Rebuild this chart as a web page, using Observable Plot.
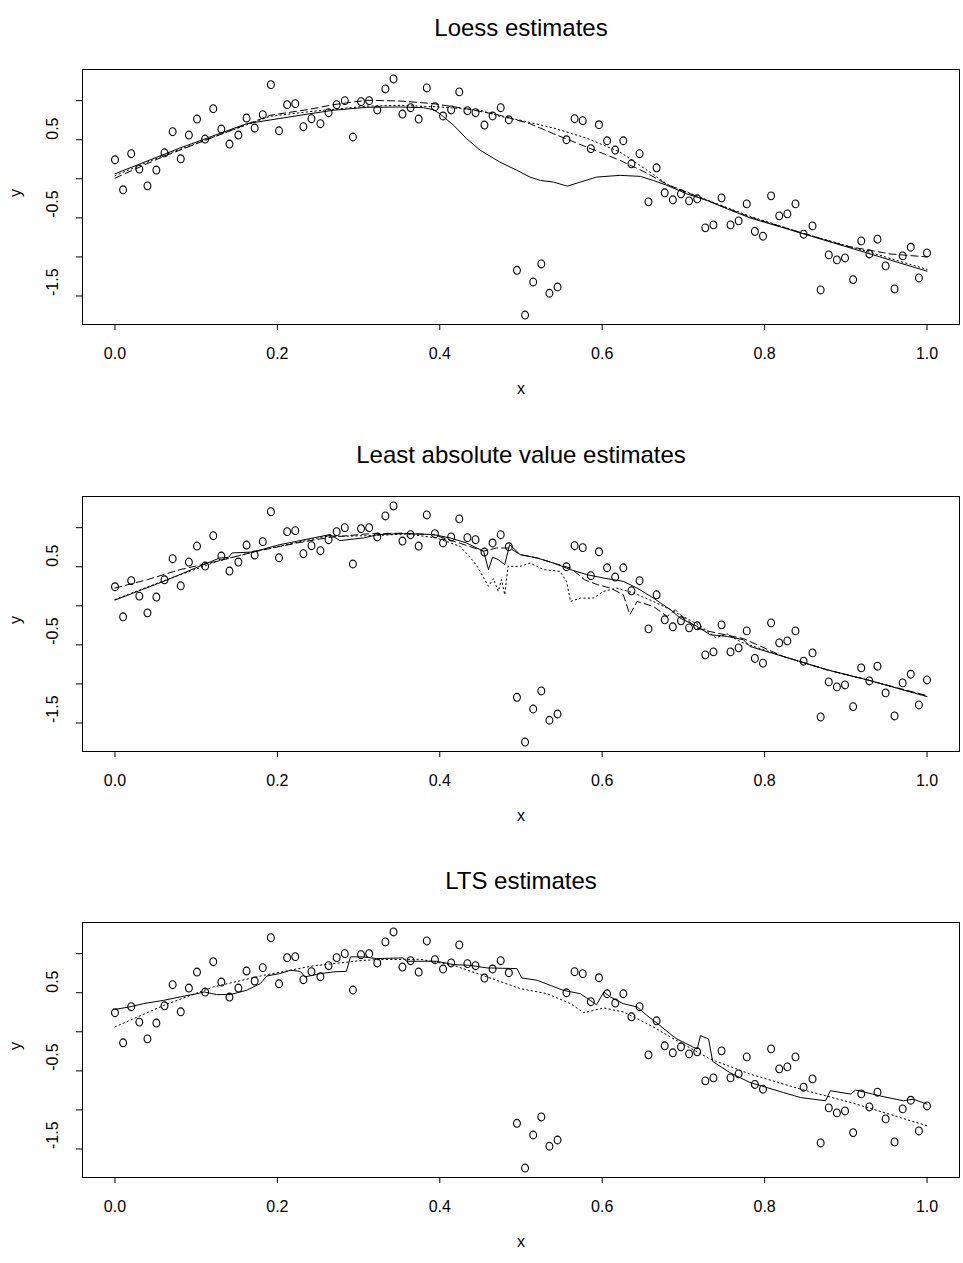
<!DOCTYPE html>
<html>
<head>
<meta charset="utf-8">
<script src="https://cdn.jsdelivr.net/npm/d3@7"></script>
<script src="https://cdn.jsdelivr.net/npm/@observablehq/plot@0.6"></script>
<style>
html, body { margin: 0; padding: 0; background: white; overflow: hidden; }
#wrap { position: relative; width: 963px; height: 1263px; overflow: hidden; background: white; }
#wrap svg { position: absolute; left: 0; }
</style>
</head>
<body>
<div id="wrap"></div>
<script>
// ---- data ----
const titles = ["Loess estimates", "Least absolute value estimates", "LTS estimates"];
const xTicks = [0, 0.2, 0.4, 0.6, 0.8, 1.0];
const yTicks = [-1.5, -1.0, -0.5, 0, 0.5, 1.0];
const yTickLabels = [-1.5, -0.5, 0.5];

const xs = [0.000,0.010,0.020,0.030,0.040,0.051,0.061,0.071,0.081,0.091,
0.101,0.111,0.121,0.131,0.141,0.152,0.162,0.172,0.182,0.192,
0.202,0.212,0.222,0.232,0.242,0.253,0.263,0.273,0.283,0.293,
0.303,0.313,0.323,0.333,0.343,0.354,0.364,0.374,0.384,0.394,
0.404,0.414,0.424,0.434,0.444,0.455,0.465,0.475,0.485,0.495,
0.505,0.515,0.525,0.535,0.545,0.556,0.566,0.576,0.586,0.596,
0.606,0.616,0.626,0.636,0.646,0.657,0.667,0.677,0.687,0.697,
0.707,0.717,0.727,0.737,0.747,0.758,0.768,0.778,0.788,0.798,
0.808,0.818,0.828,0.838,0.848,0.859,0.869,0.879,0.889,0.899,
0.909,0.919,0.929,0.939,0.949,0.960,0.970,0.980,0.990,1.000];

const ys = [0.244,-0.141,0.321,0.124,-0.090,0.112,0.333,0.603,0.256,0.560,
0.765,0.509,0.897,0.637,0.445,0.560,0.778,0.650,0.821,1.205,
0.615,0.949,0.962,0.667,0.769,0.705,0.846,0.949,1.000,0.535,
0.987,1.000,0.881,1.150,1.278,0.829,0.910,0.765,1.163,0.923,
0.804,0.881,1.112,0.872,0.846,0.688,0.804,0.910,0.756,-1.171,
-1.744,-1.321,-1.090,-1.465,-1.385,0.500,0.769,0.744,0.385,0.692,
0.487,0.368,0.487,0.192,0.321,-0.295,0.141,-0.179,-0.269,-0.192,
-0.282,-0.256,-0.628,-0.590,-0.244,-0.590,-0.538,-0.321,-0.674,-0.735,
-0.218,-0.474,-0.449,-0.321,-0.709,-0.603,-1.423,-0.974,-1.038,-1.013,
-1.290,-0.795,-0.962,-0.773,-1.115,-1.410,-0.987,-0.876,-1.269,-0.949];

// Panel 1: loess fits
const loessSolid = [[0,0.064],[0.080,0.394],[0.162,0.705],[0.240,0.833],[0.269,0.877],[0.310,0.915],[0.351,0.919],[0.380,0.910],[0.392,0.885],[0.400,0.833],[0.417,0.685],[0.433,0.513],[0.450,0.364],[0.474,0.214],[0.495,0.108],[0.511,0.022],[0.524,-0.021],[0.540,-0.042],[0.557,-0.094],[0.573,-0.042],[0.593,0.022],[0.622,0.044],[0.647,0.031],[0.663,-0.021],[0.680,-0.085],[0.704,-0.192],[0.729,-0.277],[0.754,-0.385],[0.782,-0.500],[0.848,-0.705],[0.926,-0.949],[1.000,-1.183]];
const loessDashed = [[0,0.009],[0.060,0.287],[0.191,0.813],[0.240,0.890],[0.269,0.949],[0.310,1.005],[0.351,0.996],[0.392,0.962],[0.433,0.897],[0.474,0.813],[0.511,0.705],[0.540,0.577],[0.581,0.406],[0.622,0.236],[0.655,0.073],[0.680,-0.075],[0.729,-0.277],[0.782,-0.49],[0.848,-0.70],[0.900,-0.86],[0.955,-0.962],[1.000,-1.0]];
const loessDotted = [[0,0.04],[0.060,0.30],[0.191,0.80],[0.240,0.86],[0.310,0.93],[0.351,0.94],[0.400,0.92],[0.450,0.877],[0.474,0.80],[0.499,0.75],[0.540,0.65],[0.581,0.52],[0.622,0.342],[0.663,0.056],[0.680,-0.07],[0.729,-0.27],[0.782,-0.48],[0.848,-0.70],[0.926,-0.93],[1.000,-1.16]];

// Panel 2: least absolute value fits
const lavSolid = [[0,0.073],[0.060,0.313],[0.109,0.527],[0.129,0.612],[0.140,0.62],[0.144,0.676],[0.170,0.689],[0.203,0.783],[0.224,0.826],[0.244,0.868],[0.265,0.912],[0.277,0.835],[0.306,0.868],[0.324,0.912],[0.355,0.924],[0.392,0.912],[0.413,0.868],[0.433,0.804],[0.454,0.697],[0.460,0.463],[0.465,0.621],[0.472,0.591],[0.480,0.527],[0.486,0.783],[0.499,0.655],[0.520,0.612],[0.540,0.547],[0.561,0.463],[0.581,0.399],[0.602,0.355],[0.626,0.313],[0.643,0.227],[0.663,0.099],[0.684,-0.05],[0.696,-0.158],[0.717,-0.264],[0.733,-0.371],[0.754,-0.392],[0.774,-0.435],[0.782,-0.521],[0.823,-0.649],[0.877,-0.819],[0.926,-0.947],[1.000,-1.162]];
const lavDashed = [[0,0.227],[0.040,0.335],[0.080,0.463],[0.129,0.578],[0.174,0.697],[0.224,0.804],[0.265,0.877],[0.310,0.92],[0.355,0.93],[0.392,0.91],[0.425,0.80],[0.454,0.70],[0.470,0.74],[0.486,0.74],[0.499,0.655],[0.520,0.612],[0.540,0.547],[0.561,0.483],[0.578,0.335],[0.594,0.271],[0.610,0.227],[0.626,0.142],[0.634,-0.114],[0.643,0.056],[0.663,-0.008],[0.680,-0.136],[0.690,-0.05],[0.696,-0.114],[0.704,-0.178],[0.717,-0.286],[0.733,-0.33],[0.774,-0.42],[0.823,-0.649],[0.877,-0.82],[0.926,-0.947],[1.000,-1.15]];
const lavDotted = [[0,0.08],[0.060,0.32],[0.129,0.58],[0.174,0.70],[0.224,0.81],[0.265,0.90],[0.277,0.89],[0.324,0.90],[0.360,0.92],[0.396,0.868],[0.425,0.761],[0.438,0.612],[0.446,0.505],[0.460,0.249],[0.466,0.347],[0.472,0.185],[0.476,0.335],[0.480,0.142],[0.484,0.505],[0.499,0.505],[0.511,0.547],[0.528,0.463],[0.548,0.441],[0.556,0.313],[0.561,0.056],[0.573,0.099],[0.589,0.099],[0.602,0.185],[0.618,0.227],[0.639,0.163],[0.663,0.056],[0.684,-0.05],[0.720,-0.25],[0.740,-0.41],[0.754,-0.36],[0.770,-0.46],[0.823,-0.649],[0.877,-0.82],[0.926,-0.947],[1.000,-1.16]];

// Panel 3: LTS fits
const ltsSolid = [[0,0.287],[0.018,0.318],[0.035,0.360],[0.060,0.403],[0.080,0.446],[0.101,0.488],[0.110,0.510],[0.125,0.476],[0.142,0.476],[0.162,0.531],[0.179,0.617],[0.187,0.715],[0.203,0.745],[0.216,0.787],[0.228,0.774],[0.234,0.703],[0.253,0.745],[0.269,0.767],[0.285,0.774],[0.290,0.959],[0.306,0.959],[0.322,0.937],[0.355,0.946],[0.359,0.903],[0.396,0.903],[0.417,0.860],[0.437,0.851],[0.458,0.818],[0.495,0.809],[0.501,0.690],[0.520,0.659],[0.536,0.595],[0.552,0.531],[0.573,0.488],[0.593,0.347],[0.602,0.510],[0.610,0.446],[0.626,0.360],[0.643,0.318],[0.655,0.210],[0.671,0.082],[0.684,-0.030],[0.692,-0.092],[0.717,-0.221],[0.721,-0.050],[0.731,-0.092],[0.736,-0.379],[0.757,-0.521],[0.782,-0.649],[0.823,-0.777],[0.844,-0.841],[0.875,-0.883],[0.881,-0.755],[0.906,-0.797],[0.912,-0.746],[0.947,-0.832],[0.971,-0.883],[0.983,-0.862],[1.000,-0.926]];
const ltsDotted = [[0,0.062],[0.060,0.338],[0.121,0.574],[0.183,0.723],[0.244,0.844],[0.306,0.915],[0.326,0.924],[0.376,0.928],[0.417,0.851],[0.458,0.703],[0.499,0.553],[0.532,0.488],[0.561,0.360],[0.577,0.245],[0.602,0.305],[0.626,0.254],[0.643,0.168],[0.663,0.062],[0.684,-0.067],[0.733,-0.349],[0.782,-0.541],[0.844,-0.733],[0.906,-0.905],[0.947,-1.033],[1.000,-1.204]];

// ---- drawing ----
const points = xs.map((x, i) => ({x, y: ys[i]}));
const toObjs = arr => arr.map(([x, y]) => ({x, y}));
const DASH = "7,4", DOT = "1.4,3";

const ellipse = {
  draw(ctx, size) {
    const r = Math.sqrt(size / Math.PI);
    const rx = r * 0.88, ry = r, k = 0.5523;
    ctx.moveTo(rx, 0);
    ctx.bezierCurveTo(rx, k * ry, k * rx, ry, 0, ry);
    ctx.bezierCurveTo(-k * rx, ry, -rx, k * ry, -rx, 0);
    ctx.bezierCurveTo(-rx, -k * ry, -k * rx, -ry, 0, -ry);
    ctx.bezierCurveTo(k * rx, -ry, rx, -k * ry, rx, 0);
    ctx.closePath();
  }
};

const panels = [
  [[loessSolid, null], [loessDashed, DASH], [loessDotted, DOT]],
  [[lavSolid, null], [lavDashed, DASH], [lavDotted, DOT]],
  [[ltsSolid, null], [ltsDotted, DOT]]
];

const FONT = "'Liberation Sans', Arial, Helvetica, sans-serif";
const wrap = document.getElementById("wrap");
const tops = [0, 427, 853];

panels.forEach((lines, k) => {
  const svg = Plot.plot({
    width: 963, height: 427,
    marginTop: 69, marginBottom: 103, marginLeft: 82, marginRight: 4,
    x: {domain: [-0.04, 1.04], axis: null},
    y: {domain: [-1.865, 1.399], axis: null},
    style: {fontFamily: FONT, fontSize: "16px", background: "white", color: "black"},
    marks: [
      Plot.axisX({ticks: xTicks, tickSize: 6, tickPadding: 17, tickFormat: d => d.toFixed(1), label: null, fontSize: 16, strokeWidth: 1}),
      Plot.axisY({ticks: yTicks, tickSize: 6, tickFormat: () => "", label: null, strokeWidth: 1}),
      Plot.text(yTickLabels, {y: d => d, frameAnchor: "left", dx: -30, rotate: -90, text: d => d.toFixed(1), fontSize: 16, fill: "black"}),
      Plot.text(["y"], {frameAnchor: "left", dx: -67, rotate: -90, fontSize: 16, fill: "black"}),
      Plot.text(["x"], {frameAnchor: "bottom", dy: 69, fontSize: 16, fill: "black"}),
      Plot.text([titles[k]], {frameAnchor: "top", dy: -51, fontSize: 24, fill: "black"}),
      ...lines.map(([arr, dash]) => Plot.line(toObjs(arr), {x: "x", y: "y", stroke: "black", strokeWidth: 1, strokeDasharray: dash || undefined})),
      Plot.dot(points, {x: "x", y: "y", r: 3.9, symbol: ellipse, stroke: "black", strokeWidth: 1.1, fill: "none"}),
      Plot.frame({stroke: "black", strokeWidth: 1})
    ]
  });
  svg.style.top = tops[k] + "px";
  wrap.appendChild(svg);
});
</script>
</body>
</html>
